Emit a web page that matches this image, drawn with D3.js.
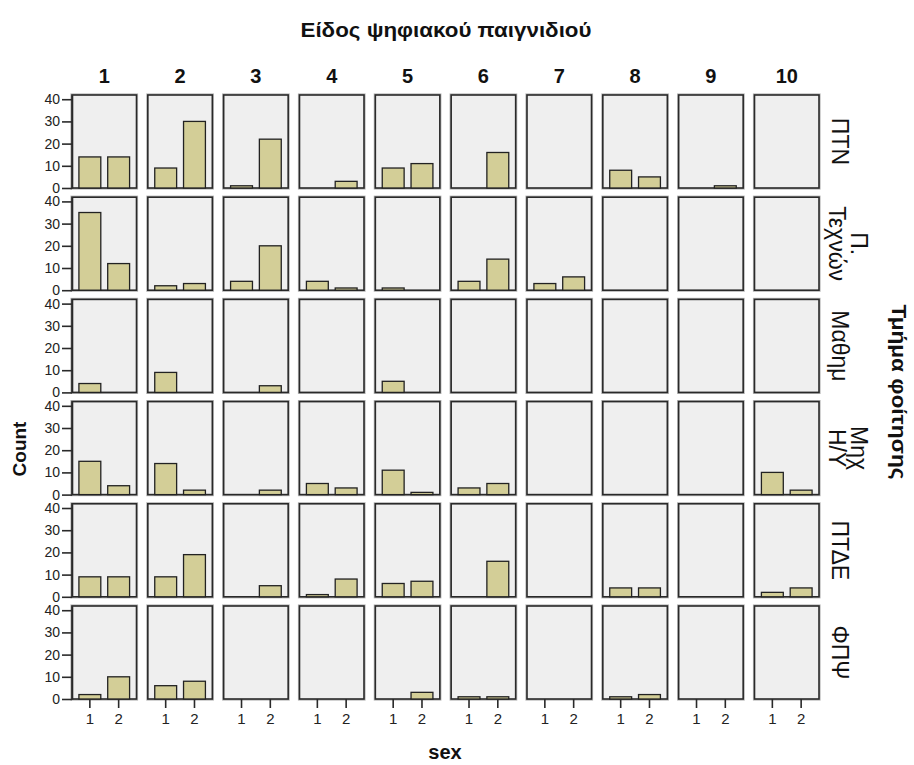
<!DOCTYPE html>
<html>
<head>
<meta charset="utf-8">
<script src="https://cdn.jsdelivr.net/npm/d3@7"></script>
<style>
  html, body { margin: 0; padding: 0; background: #fff; }
  svg { display: block; font-family: "Liberation Sans", Arial, sans-serif; }
</style>
</head>
<body>
<svg id="chart" width="914" height="765"></svg>
<script>
// ---- Data ----
const gameTypes = ["1","2","3","4","5","6","7","8","9","10"];
const departments = ["ΠΤΝ", "Π. Τεχνών", "Μαθημ", "Μηχ Η/Υ", "ΠΤΔΕ", "ΦΠΨ"];
const departmentLines = [["ΠΤΝ"], ["Π.", "Τεχνών"], ["Μαθημ"], ["Μηχ", "Η/Υ"], ["ΠΤΔΕ"], ["ΦΠΨ"]];
const sexes = ["1", "2"];
const yTicks = [0, 10, 20, 30, 40];

// counts per game type [sex 1, sex 2]
const countsPTN      = [[14,14],[9,30],[1,22],[0,3],[9,11],[0,16],[0,0],[8,5],[0,1],[0,0]];
const countsTechnon  = [[35,12],[2,3],[4,20],[4,1],[1,0],[4,14],[3,6],[0,0],[0,0],[0,0]];
const countsMathim   = [[4,0],[9,0],[0,3],[0,0],[5,0],[0,0],[0,0],[0,0],[0,0],[0,0]];
const countsMichHY   = [[15,4],[14,2],[0,2],[5,3],[11,1],[3,5],[0,0],[0,0],[0,0],[10,2]];
const countsPTDE     = [[9,9],[9,19],[0,5],[1,8],[6,7],[0,16],[0,0],[4,4],[0,0],[2,4]];
const countsFPPS     = [[2,10],[6,8],[0,0],[0,0],[0,3],[1,1],[0,0],[1,2],[0,0],[0,0]];
const allCounts = [countsPTN, countsTechnon, countsMathim, countsMichHY, countsPTDE, countsFPPS];

const titleTop = "Είδος ψηφιακού παιγνιδιού";
const titleRight = "Τμήμα φοίτησης";
const titleLeft = "Count";
const titleBottom = "sex";

// ---- Layout ----
const svg = d3.select("#chart");
const gridLeft = 72, gridRight = 819, gridTop = 95, gridBottom = 699;
const panelW = 64.5, panelH = 93;
const colX = d3.scalePoint().domain(gameTypes).range([gridLeft, gridRight - panelW]);
const rowY = d3.scalePoint().domain(departments).range([gridTop, gridBottom - panelH]);

const x = d3.scaleBand().domain(sexes).range([0, panelW]).padding(0.24);
const y = d3.scaleLinear().domain([0, 41.9]).range([panelH, 0]);

const fillPanel = "#efefef";
const barFill = "#d3ce97";
const fontFam = "Liberation Sans, Arial, sans-serif";

departments.forEach((dep, ri) => {
  gameTypes.forEach((gt, ci) => {
    const g = svg.append("g").attr("transform", `translate(${colX(gt)},${rowY(dep)})`);
    g.append("rect")
      .attr("x", 0).attr("y", 0).attr("width", panelW).attr("height", panelH)
      .attr("fill", fillPanel).attr("stroke", "#b5b5b5").attr("stroke-width", 3.2);
    g.append("rect")
      .attr("x", 0).attr("y", 0).attr("width", panelW).attr("height", panelH)
      .attr("fill", fillPanel).attr("stroke", "#2a2a2a").attr("stroke-width", 1.6);
    const vals = allCounts[ri][ci];
    g.selectAll("rect.bar").data(sexes.map((s, i) => ({ s, v: vals[i] })).filter(d => d.v > 0))
      .join("rect").attr("class", "bar")
      .attr("x", d => x(d.s)).attr("width", x.bandwidth())
      .attr("y", d => y(d.v)).attr("height", d => y(0) - y(d.v))
      .attr("fill", barFill).attr("stroke", "#222").attr("stroke-width", 1.3);

    if (ci === 0) {
      const ax = g.append("g").call(d3.axisLeft(y).tickValues(yTicks).tickSize(10).tickPadding(2).tickSizeOuter(0));
      ax.select(".domain").attr("stroke", "#2a2a2a").attr("stroke-width", 1.6);
      ax.selectAll(".tick line").attr("stroke", "#2a2a2a").attr("stroke-width", 1.6);
      ax.selectAll(".tick text").attr("font-size", 14).attr("fill", "#222")
        .attr("font-family", fontFam);
    }
    if (ri === departments.length - 1) {
      const bx = g.append("g").attr("transform", `translate(0,${panelH})`)
        .call(d3.axisBottom(x).tickSize(9).tickPadding(5).tickSizeOuter(0));
      bx.select(".domain").remove();
      bx.selectAll(".tick line").attr("stroke", "#2a2a2a").attr("stroke-width", 1.6);
      bx.selectAll(".tick text").attr("font-size", 15).attr("fill", "#222")
        .attr("font-family", fontFam);
    }
  });
});

// column headers
svg.selectAll("text.colhead").data(gameTypes).join("text").attr("class", "colhead")
  .attr("x", d => colX(d) + panelW / 2).attr("y", 76)
  .attr("text-anchor", "middle").attr("dominant-baseline", "central")
  .attr("font-size", 20).attr("font-weight", "bold").attr("fill", "#111")
  .text(d => d);

// row labels (rotated 90°)
departments.forEach((dep, ri) => {
  const lines = departmentLines[ri];
  const cy = rowY(dep) + panelH / 2;
  const cx = lines.length === 1 ? 840 : 848;
  const lh = 22;
  const t = svg.append("text")
    .attr("transform", `translate(${cx},${cy}) rotate(90)`)
    .attr("text-anchor", "middle").attr("font-size", 23).attr("fill", "#111");
  lines.forEach((ln, i) => {
    t.append("tspan").attr("x", 0)
      .attr("y", (i - (lines.length - 1) / 2) * lh)
      .attr("dominant-baseline", "central")
      .text(ln);
  });
});

// titles
svg.append("text").attr("x", 446).attr("y", 29)
  .attr("text-anchor", "middle").attr("dominant-baseline", "central")
  .attr("font-size", 21).attr("font-weight", "bold").attr("fill", "#111")
  .attr("textLength", 291).attr("lengthAdjust", "spacingAndGlyphs")
  .text(titleTop);
svg.append("text").attr("x", 445).attr("y", 759)
  .attr("text-anchor", "middle")
  .attr("font-size", 20).attr("font-weight", "bold").attr("fill", "#111")
  .text(titleBottom);
svg.append("text").attr("transform", "translate(19,449) rotate(-90)")
  .attr("text-anchor", "middle").attr("dominant-baseline", "central")
  .attr("font-size", 19).attr("font-weight", "bold").attr("fill", "#111")
  .text(titleLeft);
svg.append("text").attr("transform", "translate(899,392) rotate(90)")
  .attr("text-anchor", "middle").attr("dominant-baseline", "central")
  .attr("font-size", 20).attr("font-weight", "bold").attr("fill", "#111")
  .attr("textLength", 175).attr("lengthAdjust", "spacingAndGlyphs")
  .text(titleRight);
</script>
</body>
</html>
